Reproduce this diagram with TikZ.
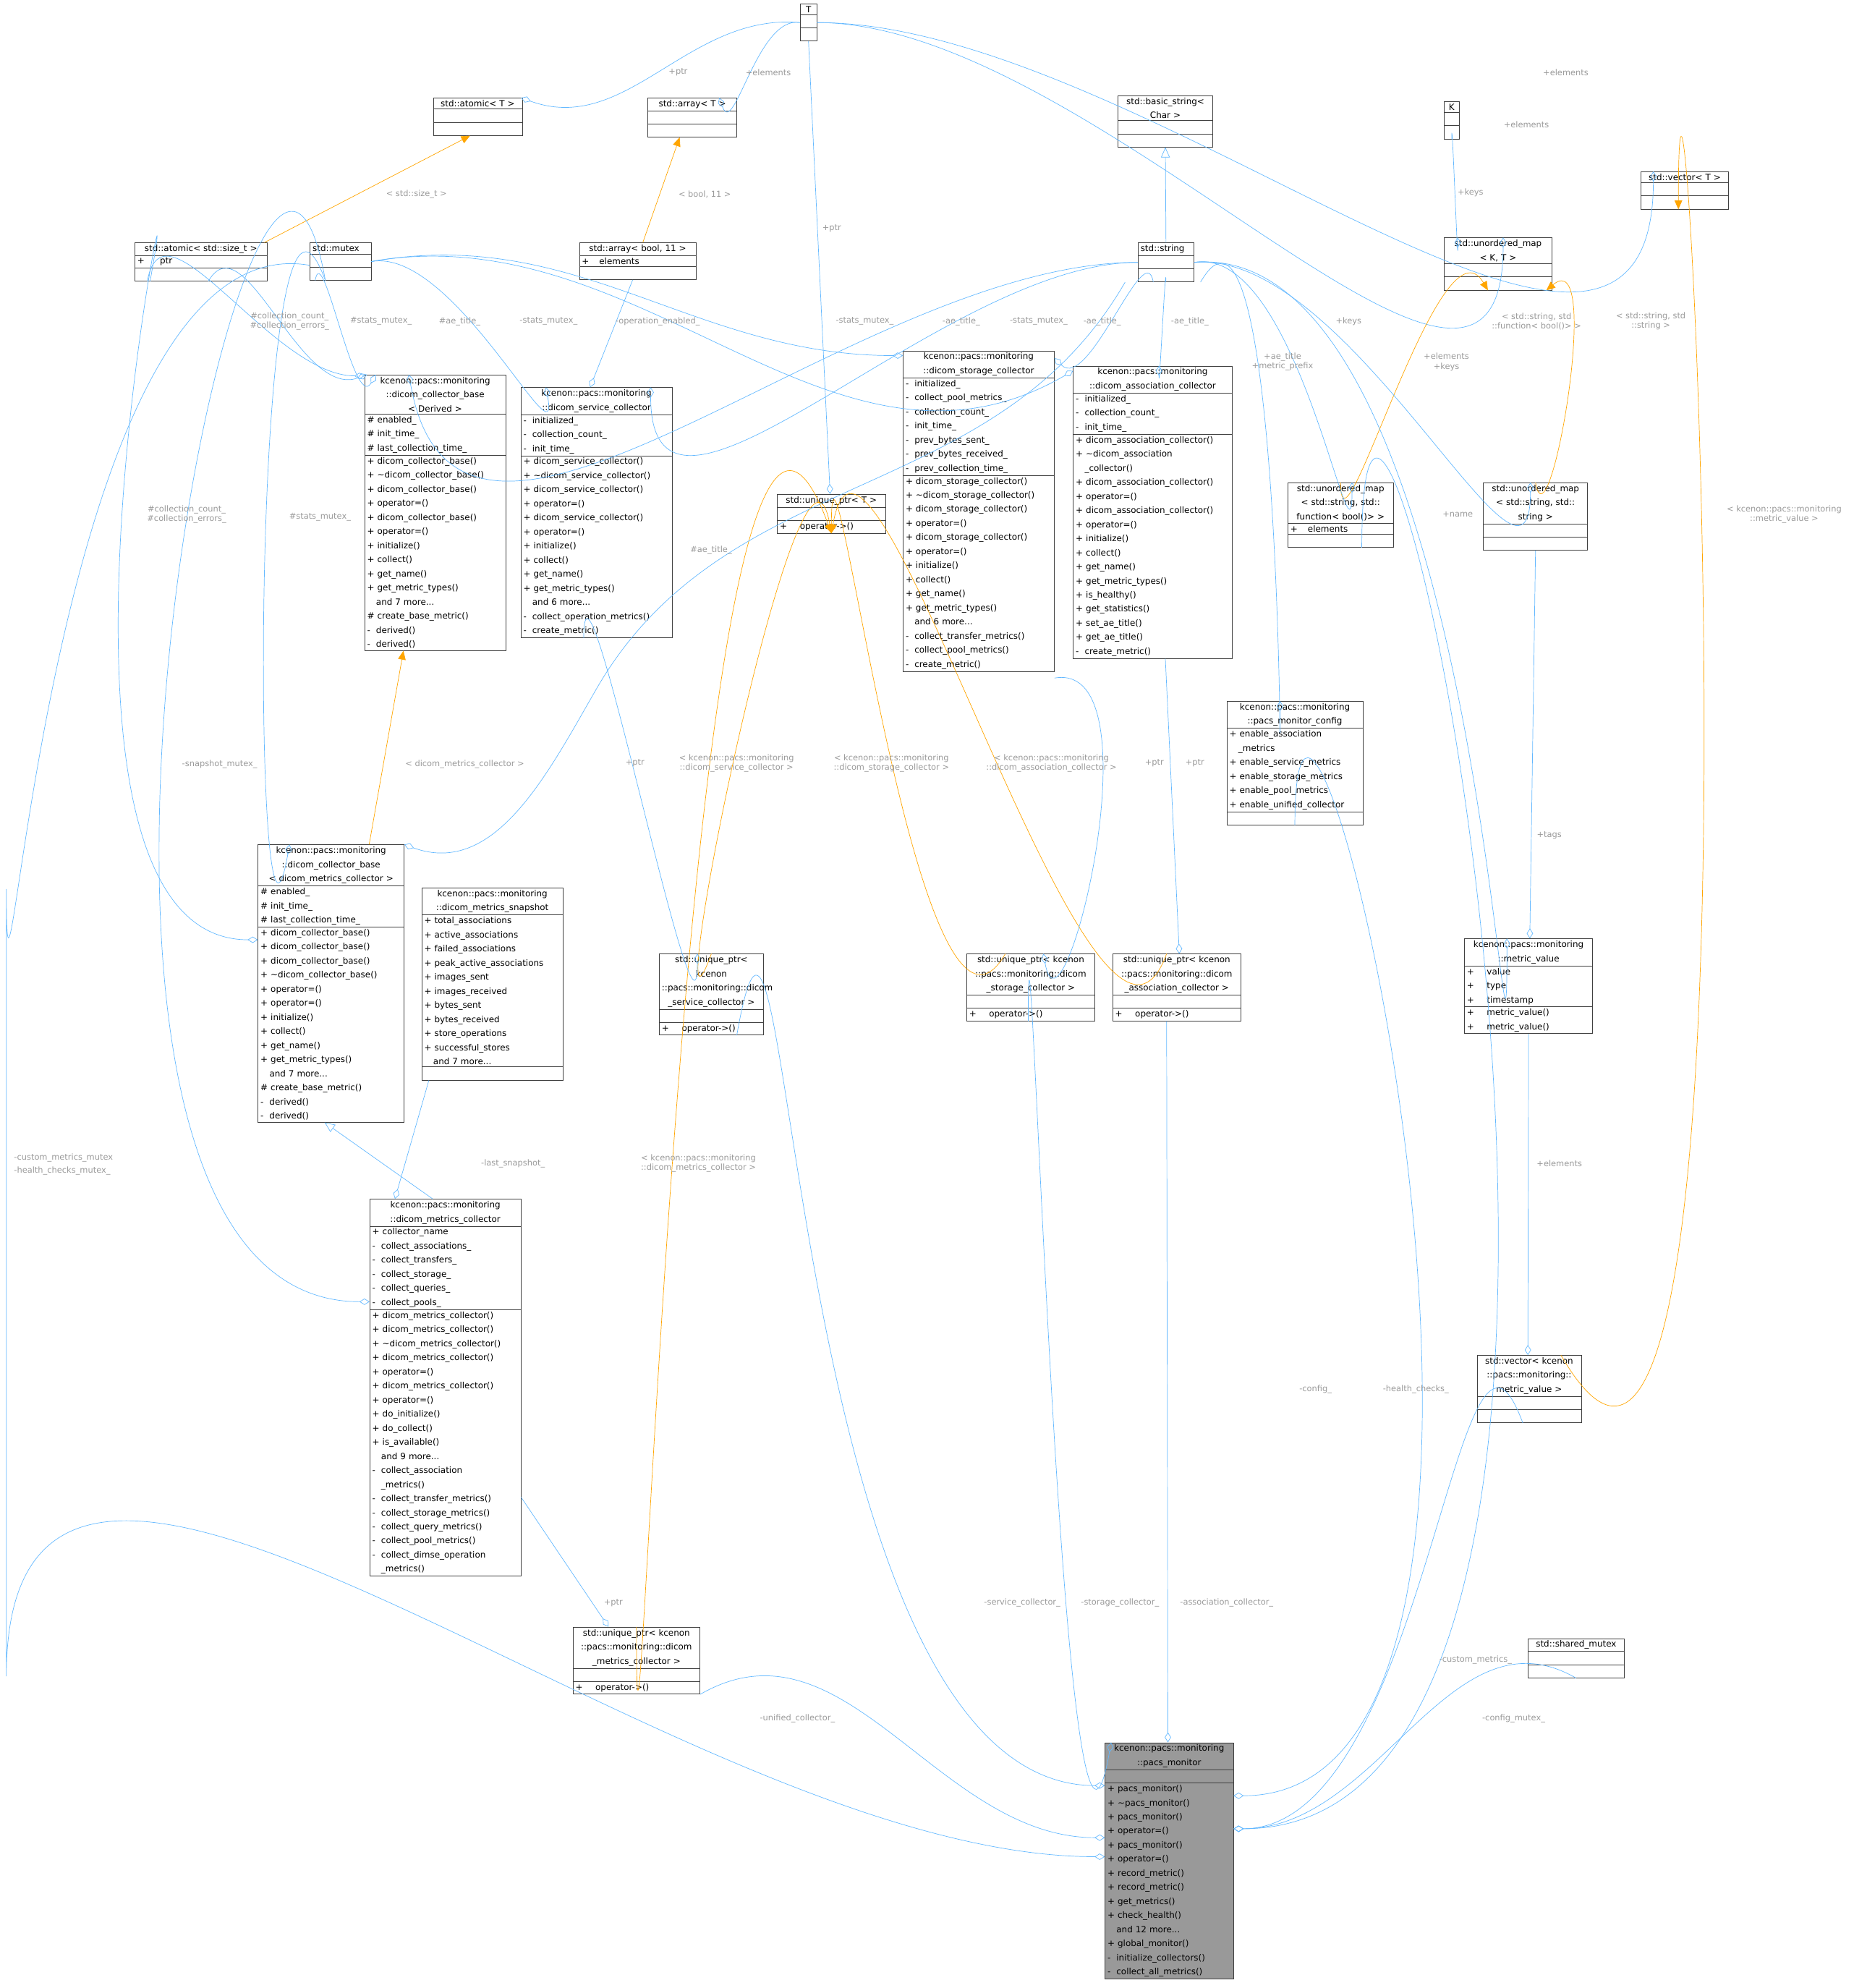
\documentclass[tikz,border=0pt]{standalone}
\usepackage{fontspec}
\setmainfont{DejaVu Sans}
\usetikzlibrary{shapes.multipart,arrows.meta}
\definecolor{edgeblue}{HTML}{63B8FF}
\definecolor{edgeorange}{HTML}{FFA500}
\definecolor{lblgray}{HTML}{9A9A9A}
\newcommand{\emp}{\rule{0pt}{7pt}}
\begin{document}
\begin{tikzpicture}[
        x=1pt, y=-1pt,
        cls/.style={rectangle split, rectangle split parts=3, draw=black!75, fill=white, anchor=north west,
            align=left, inner xsep=2pt, inner ysep=1.5pt, font=\fontsize{6.8}{11.1}\selectfont},
        agg/.style={draw=edgeblue, -{Diamond[open,length=8pt,width=5pt]}},
        tpl/.style={draw=edgeorange, -{Triangle[length=7pt,width=6pt]}},
        inh/.style={draw=edgeblue, -{Triangle[open,length=8pt,width=7pt]}},
        lbl/.style={font=\fontsize{6.5}{7.5}\selectfont, text=lblgray, align=center, inner sep=0pt}
    ]
    \useasboundingbox (0,0) rectangle (1460,1565.4);

    % Templates and std types
    \node[cls, text width=9pt] (T) at (630,3) {\centering T\par\nodepart{two}\emp\nodepart{three}\emp};
    \node[cls, text width=66pt] (atomicT) at (341,77) {\centering std::atomic< T >\par\nodepart{two}\emp\nodepart{three}\emp};
    \node[cls, text width=66pt] (arrayT) at (510,77) {\centering std::array< T >\par\nodepart{two}\emp\nodepart{three}\emp};
    \node[cls, text width=71pt] (bstring) at (880,75) {\centering std::basic\_string<\\Char >\par\nodepart{two}\emp\nodepart{three}\emp};
    \node[cls, text width=8pt] (K) at (1137,80) {\centering K\par\nodepart{two}\emp\nodepart{three}\emp};
    \node[cls, text width=65pt] (vectorT) at (1292,135) {\centering std::vector< T >\par\nodepart{two}\emp\nodepart{three}\emp};
    \node[cls, text width=100pt] (atomicSz) at (106,191) {\centering std::atomic< std::size\_t >\par\nodepart{two}+\hspace{12pt}ptr\nodepart{three}\emp};
    \node[cls, text width=44pt] (mutex) at (244,191) {std::mutex\nodepart{two}\emp\nodepart{three}\emp};
    \node[cls, text width=88pt] (arrayB) at (456,191) {\centering std::array< bool, 11 >\par\nodepart{two}+\hspace{8pt}elements\nodepart{three}\emp};
    \node[cls, text width=40pt] (string) at (896,191) {std::string\nodepart{two}\emp\nodepart{three}\emp};
    \node[cls, text width=81pt] (umapKT) at (1137,187) {\centering std::unordered\_map\\< K, T >\par\nodepart{two}\emp\nodepart{three}\emp};

    % Collectors
    \node[cls, text width=107pt] (cbD) at (287,295) {\centering kcenon::pacs::monitoring\\::dicom\_collector\_base\\< Derived >\par
        \nodepart{two}\# enabled\_\\\# init\_time\_\\\# last\_collection\_time\_
        \nodepart{three}+ dicom\_collector\_base()\\+ \textasciitilde dicom\_collector\_base()\\+ dicom\_collector\_base()\\+ operator=()\\+ dicom\_collector\_base()\\+ operator=()\\+ initialize()\\+ collect()\\+ get\_name()\\+ get\_metric\_types()\\\hspace{7pt}and 7 more...\\\# create\_base\_metric()\\- \ derived()\\- \ derived()};
    \node[cls, text width=115pt] (svc) at (410,305) {\centering kcenon::pacs::monitoring\\::dicom\_service\_collector\par
        \nodepart{two}- \ initialized\_\\- \ collection\_count\_\\- \ init\_time\_
        \nodepart{three}+ dicom\_service\_collector()\\+ \textasciitilde dicom\_service\_collector()\\+ dicom\_service\_collector()\\+ operator=()\\+ dicom\_service\_collector()\\+ operator=()\\+ initialize()\\+ collect()\\+ get\_name()\\+ get\_metric\_types()\\\hspace{7pt}and 6 more...\\- \ collect\_operation\_metrics()\\- \ create\_metric()};
    \node[cls, text width=81pt] (uptrT) at (612,389) {\centering std::unique\_ptr< T >\par\nodepart{two}\emp\nodepart{three}+\hspace{10pt}operator->()};
    \node[cls, text width=115pt] (stor) at (711,276) {\centering kcenon::pacs::monitoring\\::dicom\_storage\_collector\par
        \nodepart{two}- \ initialized\_\\- \ collect\_pool\_metrics\_\\- \ collection\_count\_\\- \ init\_time\_\\- \ prev\_bytes\_sent\_\\- \ prev\_bytes\_received\_\\- \ prev\_collection\_time\_
        \nodepart{three}+ dicom\_storage\_collector()\\+ \textasciitilde dicom\_storage\_collector()\\+ dicom\_storage\_collector()\\+ operator=()\\+ dicom\_storage\_collector()\\+ operator=()\\+ initialize()\\+ collect()\\+ get\_name()\\+ get\_metric\_types()\\\hspace{7pt}and 6 more...\\- \ collect\_transfer\_metrics()\\- \ collect\_pool\_metrics()\\- \ create\_metric()};
    \node[cls, text width=121pt] (assoc) at (845,288) {\centering kcenon::pacs::monitoring\\::dicom\_association\_collector\par
        \nodepart{two}- \ initialized\_\\- \ collection\_count\_\\- \ init\_time\_
        \nodepart{three}+ dicom\_association\_collector()\\+ \textasciitilde dicom\_association\\\hspace{7pt}\_collector()\\+ dicom\_association\_collector()\\+ operator=()\\+ dicom\_association\_collector()\\+ operator=()\\+ initialize()\\+ collect()\\+ get\_name()\\+ get\_metric\_types()\\+ is\_healthy()\\+ get\_statistics()\\+ set\_ae\_title()\\+ get\_ae\_title()\\- \ create\_metric()};
    \node[cls, text width=79pt] (umapFn) at (1014,380) {\centering std::unordered\_map\\< std::string, std::\\function< bool()> >\par\nodepart{two}+\hspace{8pt}elements\nodepart{three}\emp};
    \node[cls, text width=78pt] (umapStr) at (1168,380) {\centering std::unordered\_map\\< std::string, std::\\string >\par\nodepart{two}\emp\nodepart{three}\emp};
    \node[cls, text width=103pt] (cfg) at (966,552) {\centering kcenon::pacs::monitoring\\::pacs\_monitor\_config\par
        \nodepart{two}+ enable\_association\\\hspace{7pt}\_metrics\\+ enable\_service\_metrics\\+ enable\_storage\_metrics\\+ enable\_pool\_metrics\\+ enable\_unified\_collector\nodepart{three}\emp};
    \node[cls, text width=111pt] (cbM) at (203,665) {\centering kcenon::pacs::monitoring\\::dicom\_collector\_base\\< dicom\_metrics\_collector >\par
        \nodepart{two}\# enabled\_\\\# init\_time\_\\\# last\_collection\_time\_
        \nodepart{three}+ dicom\_collector\_base()\\+ dicom\_collector\_base()\\+ dicom\_collector\_base()\\+ \textasciitilde dicom\_collector\_base()\\+ operator=()\\+ operator=()\\+ initialize()\\+ collect()\\+ get\_name()\\+ get\_metric\_types()\\\hspace{7pt}and 7 more...\\\# create\_base\_metric()\\- \ derived()\\- \ derived()};
    \node[cls, text width=107pt] (snap) at (332,699) {\centering kcenon::pacs::monitoring\\::dicom\_metrics\_snapshot\par
        \nodepart{two}+ total\_associations\\+ active\_associations\\+ failed\_associations\\+ peak\_active\_associations\\+ images\_sent\\+ images\_received\\+ bytes\_sent\\+ bytes\_received\\+ store\_operations\\+ successful\_stores\\\hspace{7pt}and 7 more...\nodepart{three}\emp};
    \node[cls, text width=78pt] (upSvc) at (519,751) {\centering std::unique\_ptr< kcenon\\::pacs::monitoring::dicom\\\_service\_collector >\par\nodepart{two}\emp\nodepart{three}+\hspace{10pt}operator->()};
    \node[cls, text width=97pt] (upStor) at (761,751) {\centering std::unique\_ptr< kcenon\\::pacs::monitoring::dicom\\\_storage\_collector >\par\nodepart{two}\emp\nodepart{three}+\hspace{10pt}operator->()};
    \node[cls, text width=97pt] (upAssoc) at (876,751) {\centering std::unique\_ptr< kcenon\\::pacs::monitoring::dicom\\\_association\_collector >\par\nodepart{two}\emp\nodepart{three}+\hspace{10pt}operator->()};
    \node[cls, text width=97pt] (mval) at (1153,739) {\centering kcenon::pacs::monitoring\\::metric\_value\par
        \nodepart{two}+\hspace{10pt}value\\+\hspace{10pt}type\\+\hspace{10pt}timestamp\nodepart{three}+\hspace{10pt}metric\_value()\\+\hspace{10pt}metric\_value()};
    \node[cls, text width=115pt] (mcol) at (291,944) {\centering kcenon::pacs::monitoring\\::dicom\_metrics\_collector\par
        \nodepart{two}+ collector\_name\\- \ collect\_associations\_\\- \ collect\_transfers\_\\- \ collect\_storage\_\\- \ collect\_queries\_\\- \ collect\_pools\_
        \nodepart{three}+ dicom\_metrics\_collector()\\+ dicom\_metrics\_collector()\\+ \textasciitilde dicom\_metrics\_collector()\\+ dicom\_metrics\_collector()\\+ operator=()\\+ dicom\_metrics\_collector()\\+ operator=()\\+ do\_initialize()\\+ do\_collect()\\+ is\_available()\\\hspace{7pt}and 9 more...\\- \ collect\_association\\\hspace{7pt}\_metrics()\\- \ collect\_transfer\_metrics()\\- \ collect\_storage\_metrics()\\- \ collect\_query\_metrics()\\- \ collect\_pool\_metrics()\\- \ collect\_dimse\_operation\\\hspace{7pt}\_metrics()};
    \node[cls, text width=78pt] (vecMv) at (1163,1067) {\centering std::vector< kcenon\\::pacs::monitoring::\\metric\_value >\par\nodepart{two}\emp\nodepart{three}\emp};
    \node[cls, text width=96pt] (upMcol) at (451,1281) {\centering std::unique\_ptr< kcenon\\::pacs::monitoring::dicom\\\_metrics\_collector >\par\nodepart{two}\emp\nodepart{three}+\hspace{10pt}operator->()};
    \node[cls, text width=72pt] (smutex) at (1203,1290) {\centering std::shared\_mutex\par\nodepart{two}\emp\nodepart{three}\emp};
    \node[cls, text width=97pt, fill=black!40] (pm) at (870,1372) {\centering kcenon::pacs::monitoring\\::pacs\_monitor\par
        \nodepart{two}\emp\nodepart{three}+ pacs\_monitor()\\+ \textasciitilde pacs\_monitor()\\+ pacs\_monitor()\\+ operator=()\\+ pacs\_monitor()\\+ operator=()\\+ record\_metric()\\+ record\_metric()\\+ get\_metrics()\\+ check\_health()\\\hspace{7pt}and 12 more...\\+ global\_monitor()\\- \ initialize\_collectors()\\- \ collect\_all\_metrics()};

    % Edges from T and K
    \draw[agg] (T.west) to[out=-185,in=-20] ([xshift=-1]atomicT.north east);
    \draw[agg] (T.west) to[out=-190,in=-70] ([xshift=-14]arrayT.north east);
    \draw[agg] (T.south) -- ([xshift=-1]uptrT.north);
    \draw[agg] (T.east) to[out=0,in=-90] ([xshift=4]umapKT.north);
    \draw[agg] (T.east) to[out=0,in=-90] ([xshift=10]vectorT.north west);
    \draw[agg] (K.south) to[out=90,in=-90] ([xshift=11]umapKT.north west);
    \draw[inh] (string.north) -- (bstring.south);

    % Template instances
    \draw[tpl] ([xshift=50]atomicSz.north) -- ([xshift=-6]atomicT.south);
    \draw[tpl] ([xshift=4]arrayB.north) -- ([xshift=-10]arrayT.south);
    \draw[tpl] (umapFn.north) to[out=-90,in=120] ([xshift=-8]umapKT.south);
    \draw[tpl] (umapStr.north) to[out=-80,in=40] ([xshift=38]umapKT.south);
    \draw[tpl] ([xshift=25]vecMv.north) to[out=-60,in=90] ([xshift=-5]vectorT.south);
    \draw[tpl] (upSvc.north) to[out=-110,in=100] (uptrT.south);
    \draw[tpl] ([xshift=-20]upStor.north) to[out=-120,in=90] (uptrT.south);
    \draw[tpl] ([xshift=-8]upAssoc.north) to[out=-110,in=80] (uptrT.south);
    \draw[tpl] (upMcol.north) to[out=-90,in=110] (uptrT.south);
    \draw[tpl] ([xshift=30]cbM.north) -- ([xshift=-25]cbD.south);
    \draw[inh] ([xshift=-10]mcol.north) -- ([xshift=-5]cbM.south);

    % Members
    \draw[agg] ([xshift=10]atomicSz.south west) to[out=80,in=-180] ([yshift=-1]cbD.north west);
    \draw[agg] ([xshift=58]atomicSz.south west) to[out=60,in=-160] ([xshift=2]cbD.north west);
    \draw[agg] ([xshift=-20]mutex.south) to[out=80,in=-120] ([xshift=9]cbD.north west);
    \draw[agg] (string.west) to[out=-180,in=-80] ([xshift=35]cbD.north west);
    \draw[agg] (mutex.east) to[out=10,in=-80] ([xshift=20]svc.north west);
    \draw[agg] (string.west) to[out=-180,in=-90] ([xshift=-17]svc.north east);
    \draw[agg] ([xshift=-4]arrayB.south) -- ([xshift=-5]svc.north);
    \draw[agg] (mutex.east) to[out=10,in=-180] ([yshift=-4]stor.north west);
    \draw[agg] ([xshift=-10]string.south) to[out=100,in=-45] ([yshift=-6]stor.north east);
    \draw[agg] (mutex.east) to[out=10,in=-150] ([yshift=-4]assoc.north west);
    \draw[agg] (string.south) to[out=90,in=-90] ([xshift=5]assoc.north);
    \draw[agg] (string.east) to[out=10,in=-90] ([xshift=9]umapFn.north);
    \draw[agg] (string.east) to[out=5,in=-90] ([xshift=-4]umapStr.north);
    \draw[agg] ([xshift=5]string.south east) to[out=60,in=-90] ([xshift=42]cfg.north west);
    \draw[agg] (string.east) to[out=5,in=-90] ([xshift=-17]mval.north);
    \draw[agg] (umapStr.south) -- ([xshift=1]mval.north);
    \draw[agg] (mval.south) -- ([xshift=-1]vecMv.north);
    \draw[agg] ([xshift=-40]atomicSz.south) to[out=80,in=-180] ([yshift=-75]cbM.north west);
    \draw[agg] ([xshift=-12]mutex.south) to[out=110,in=-100] ([xshift=25]cbM.north west);
    \draw[agg] ([xshift=-10]string.south west) to[out=-120,in=60] ([yshift=-40]svc.south) to[out=-120,in=-20] (cbM.north east);
    \draw[agg] ([xshift=-12]mutex.south) to[out=100,in=-180] ([yshift=-81]mcol.north west);
    \draw[agg] ([xshift=-50]snap.south) -- ([xshift=20]mcol.north west);
    \draw[agg] ([xshift=-10]svc.south) to[out=90,in=-90] ([xshift=-11]upSvc.north);
    \draw[agg] ([yshift=-5]stor.south east) to[out=10,in=-80] ([xshift=10]upStor.north);
    \draw[agg] ([xshift=10]assoc.south) -- ([xshift=2]upAssoc.north);
    \draw[agg] ([yshift=-235]mcol.north east) -- ([xshift=-22]upMcol.north);

    % Members of pacs_monitor
    \draw[agg] ([yshift=-3]mutex.west) to[out=-190,in=-90] (5,700) -- (5,1320) to[out=90,in=-180] ([yshift=-90]pm.north west);
    \draw[agg] (upMcol.south east) to[out=30,in=-180] ([yshift=-75]pm.north west);
    \draw[agg] ([xshift=20]upSvc.south) to[out=80,in=-180] ([yshift=-34]pm.north west);
    \draw[agg] ([xshift=-2]upStor.south) to[out=90,in=-100] ([xshift=5]pm.north west);
    \draw[agg] ([xshift=-8]upAssoc.south) -- ([xshift=-1]pm.north);
    \draw[agg] (cfg.south) to[out=90,in=0] ([yshift=-42]pm.north east);
    \draw[agg] ([xshift=-25]umapFn.south east) to[out=90,in=0] ([yshift=-68]pm.north east);
    \draw[agg] ([xshift=-5]vecMv.south) to[out=110,in=0] ([yshift=-68]pm.north east);
    \draw[agg] (smutex.south) to[out=150,in=0] ([yshift=-68]pm.north east);

    % Edge labels
    \node[lbl] at (534,57) {+ptr};
    \node[lbl] at (605,57) {+elements};
    \node[lbl] at (655,180) {+ptr};
    \node[lbl] at (1233,57) {+elements};
    \node[lbl] at (1202,98) {+elements};
    \node[lbl] at (1158,152) {+keys};
    \node[lbl] at (328,153) {< std::size\_t >};
    \node[lbl] at (555,153) {< bool, 11 >};
    \node[lbl] at (1210,253) {< std::string, std\\::function< bool()> >};
    \node[lbl] at (1300,253) {< std::string, std\\::string >};
    \node[lbl] at (1405,405) {< kcenon::pacs::monitoring\\::metric\_value >};
    \node[lbl] at (228,253) {\#collection\_count\_\\\#collection\_errors\_};
    \node[lbl] at (300,253) {\#stats\_mutex\_};
    \node[lbl] at (362,253) {\#ae\_title\_};
    \node[lbl] at (432,253) {-stats\_mutex\_};
    \node[lbl] at (518,253) {-operation\_enabled\_};
    \node[lbl] at (681,253) {-stats\_mutex\_};
    \node[lbl] at (757,253) {-ae\_title\_};
    \node[lbl] at (818,253) {-stats\_mutex\_};
    \node[lbl] at (868,253) {-ae\_title\_};
    \node[lbl] at (937,253) {-ae\_title\_};
    \node[lbl] at (1010,285) {+ae\_title\\+metric\_prefix};
    \node[lbl] at (1062,253) {+keys};
    \node[lbl] at (1139,285) {+elements\\+keys};
    \node[lbl] at (1148,405) {+name};
    \node[lbl] at (1220,658) {+tags};
    \node[lbl] at (1228,916) {+elements};
    \node[lbl] at (147,405) {\#collection\_count\_\\\#collection\_errors\_};
    \node[lbl] at (252,407) {\#stats\_mutex\_};
    \node[lbl] at (560,433) {\#ae\_title\_};
    \node[lbl] at (173,602) {-snapshot\_mutex\_};
    \node[lbl] at (366,602) {< dicom\_metrics\_collector >};
    \node[lbl] at (580,601) {< kcenon::pacs::monitoring\\::dicom\_service\_collector >};
    \node[lbl] at (702,601) {< kcenon::pacs::monitoring\\::dicom\_storage\_collector >};
    \node[lbl] at (828,601) {< kcenon::pacs::monitoring\\::dicom\_association\_collector >};
    \node[lbl] at (500,601) {+ptr};
    \node[lbl] at (909,601) {+ptr};
    \node[lbl] at (941,601) {+ptr};
    \node[lbl] at (404,916) {-last\_snapshot\_};
    \node[lbl] at (550,916) {< kcenon::pacs::monitoring\\::dicom\_metrics\_collector >};
    \node[lbl] at (483,1262) {+ptr};
    \node[lbl] at (628,1353) {-unified\_collector\_};
    \node[lbl] at (805,1262) {-service\_collector\_};
    \node[lbl] at (882,1262) {-storage\_collector\_};
    \node[lbl] at (966,1262) {-association\_collector\_};
    \node[lbl] at (1036,1094) {-config\_};
    \node[lbl] at (1115,1094) {-health\_checks\_};
    \node[lbl] at (1162,1307) {-custom\_metrics\_};
    \node[lbl] at (1192,1353) {-config\_mutex\_};
    \node[lbl, align=left] at (50,917) {-custom\_metrics\_mutex\\[3pt]-health\_checks\_mutex\_};
\end{tikzpicture}
\end{document}
